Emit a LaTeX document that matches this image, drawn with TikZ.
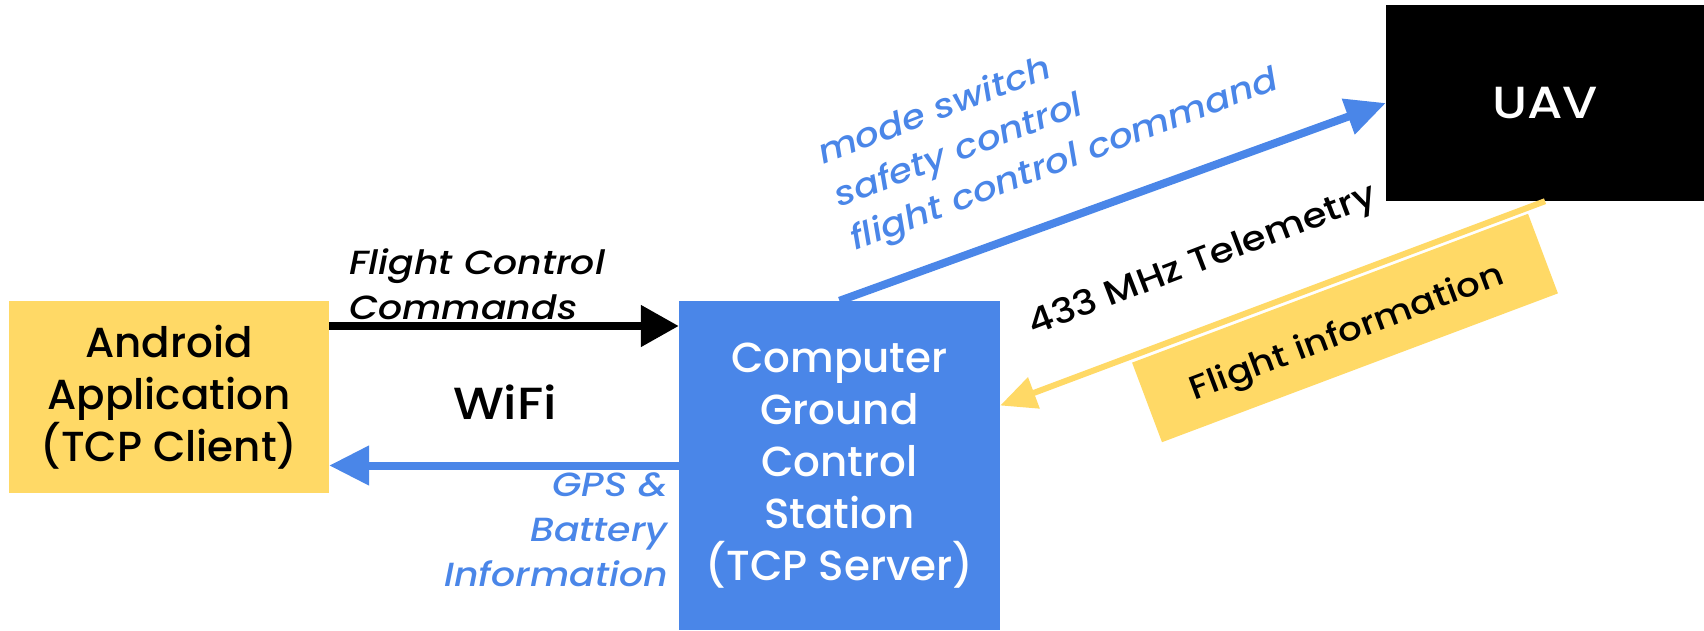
\documentclass[tikz,border=0pt]{standalone}
\usepackage{fontspec}
\setmainfont{Poppins Medium}[ItalicFont={Poppins Medium Italic}]
\newfontfamily\lblfont{Poppins Medium}[FakeStretch=1.13,ItalicFont={Poppins Medium Italic}]
\usetikzlibrary{arrows.meta}
\definecolor{gblue}{HTML}{4A86E8}
\definecolor{gyellow}{HTML}{FFD966}
\begin{document}
\begin{tikzpicture}[x=1pt,y=-1pt,
  box/.style={inner sep=0pt, align=center, font=\fontsize{42}{52}\selectfont},
  big/.style={inner sep=0pt, font=\lblfont\fontsize{45}{52}\selectfont},
  lbl/.style={inner sep=0pt, font=\lblfont\fontsize{33.5}{45}\selectfont\itshape},
  plain/.style={inner sep=0pt, font=\lblfont\fontsize{33}{44}\selectfont},
  conn/.style={line width=8pt}
]
\useasboundingbox (0,0) rectangle (1704,630);
\node[box, fill=gyellow, minimum width=320pt, minimum height=192pt] (android) at (169,397) {Android\\Application\\(TCP Client)};
\node[box, fill=gblue, text=white, minimum width=321pt, minimum height=329pt] (cgcs) at (839.5,465.5) {Computer\\Ground\\Control\\Station\\(TCP Server)};
\node[big, fill=black, text=white, minimum width=318pt, minimum height=196pt] (uav) at (1545,103) {UAV};
\node[fill=gyellow, rotate=20.6, minimum width=423pt, minimum height=85pt] (finfo) at (1345,328) {};
\node[plain, rotate=20.6] (finfotxt) at ([shift={(2.3,6.1)}]finfo.center) {Flight information};
\draw[conn, -{Triangle[length=38pt,width=40pt]}] ([yshift=71pt]android.east) -- ([yshift=71pt]android.east -| cgcs.west);
\draw[conn, gblue, -{Triangle[length=40pt,width=38pt]}] (cgcs.west) -- (cgcs.west -| android.east);
\draw[conn, gblue, -{Triangle[length=40pt,width=36pt]}] (cgcs.north) -- (uav.west);
\draw[gyellow, line width=6pt, -{Triangle[length=36pt,width=32pt]}] (uav.south) -- ([yshift=60pt]cgcs.east);
\node[lbl, anchor=south west, align=left] (fcc) at (349,320) {Flight Control\\Commands};
\node[lbl, anchor=north east, align=right, text=gblue] (gps) at (668,472) {GPS \&\\Battery\\Information};
\node[big] (wifi) at (505,402) {WiFi};
\node[plain, font=\lblfont\fontsize{34.5}{44}\selectfont, rotate=21] (tele) at (1203,262) {433 MHz Telemetry};
\node[lbl, text=gblue, rotate=21, anchor=base west] (m1) at (823,165) {mode switch};
\node[lbl, text=gblue, rotate=21, anchor=base west] (m2) at (839,208) {safety control};
\node[lbl, text=gblue, rotate=21, anchor=base west] (m3) at (855,251) {flight control command};
\end{tikzpicture}
\end{document}
